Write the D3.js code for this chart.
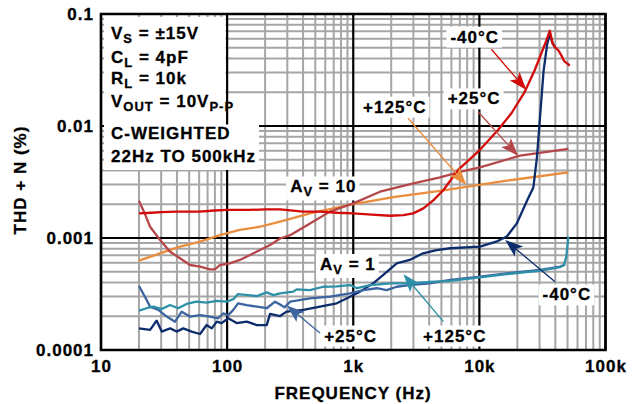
<!DOCTYPE html>
<html><head><meta charset="utf-8">
<script src="https://cdn.jsdelivr.net/npm/d3@7"></script>
<style>
body{margin:0;background:#fff}
text{font-family:"Liberation Sans",Arial,Helvetica,sans-serif;font-weight:bold;fill:#000;stroke:#000;stroke-width:0.3px;letter-spacing:1px}
</style></head><body>
<svg id="c" width="637" height="404"></svg>
<script>
// ---------- axis ticks ----------
const xTicks=[10,100,1000,10000,100000];
const xTickLabels=["10","100","1k","10k","100k"];
const yTicks=[0.0001,0.001,0.01,0.1];
const yTickLabels=["0.0001","0.001","0.01","0.1"];

// ---------- series: AV = 10 ----------
const av10_m40_f=[20,25,30,40,60,80,100,150,200,263,400,550,750,1000,1400,1960,2500,2980,3600,4330,5190,6780,9770,14060,17950,22900,27500,31000,34000,36200,38000,40000,42500,45000,47000,50800,52000];
const av10_m40_v=[0.00166,0.00168,0.0017,0.00172,0.00172,0.00176,0.00178,0.00178,0.0018,0.0018,0.00172,0.00172,0.00168,0.00166,0.00162,0.00158,0.0016,0.00166,0.00184,0.00218,0.00268,0.00405,0.0059,0.0092,0.013,0.0202,0.0316,0.0446,0.058,0.071,0.055,0.05,0.047,0.042,0.038,0.0355,0.0345];

const av10_p25_f=[20,22,24.5,29.4,35.3,42.3,50.8,61,73,80,87.7,105,126,152,182,219,263,316,454,654,1000,1630,3000,4880,7030,10100,21000,50800];
const av10_p25_v=[0.00215,0.0017,0.00126,0.00096,0.000755,0.00066,0.000574,0.000555,0.000525,0.000525,0.000574,0.000594,0.000637,0.000705,0.00078,0.000867,0.00099,0.00106,0.00135,0.00172,0.00204,0.00259,0.00308,0.00348,0.0039,0.00428,0.00543,0.00624];

const av10_p125_f=[20,29.4,42.3,61,87.7,126,182,263,454,1000,2210,4880,16500,50800];
const av10_p125_v=[0.000628,0.00073,0.000836,0.000927,0.00106,0.00118,0.00126,0.0014,0.00166,0.00201,0.00234,0.00264,0.00325,0.00386];

// ---------- series: AV = 1 ----------
const av1_m40_f=[20,24.5,27.6,30.3,35.3,39.8,44.9,52.3,61,68.8,75.5,82.8,90.6,102,119,143,172,206,219,263,296,402,545,740,943,1130,1440,1730,2210,2800,3580,4580,5860,10100,13600,16500,19800,24000,26800,28600,30400,32300,34500,36200,38000,40000];
const av1_m40_v=[0.000156,0.000151,0.000183,0.000146,0.000156,0.000146,0.000156,0.000146,0.000139,0.000167,0.000156,0.000179,0.000174,0.000192,0.000174,0.000179,0.000167,0.000167,0.00021,0.000201,0.00022,0.000228,0.000244,0.000261,0.000299,0.000332,0.000394,0.000468,0.000594,0.000637,0.00073,0.00078,0.00081,0.000836,0.000927,0.00103,0.00135,0.00218,0.00283,0.00525,0.0128,0.0312,0.054,0.0663,0.055,0.05];

const av1_p25_f=[20,22.3,24.5,28.5,33.2,38.6,43.6,50.8,61,73,85,93,102,112,122,143,172,206,240,263,285,316,454,654,943,1200,1535,1840,2210,2800,4040,5860,8980,16500,30400,43700,48000];
const av1_p25_v=[0.000373,0.000299,0.000244,0.000228,0.000199,0.000179,0.00022,0.000199,0.000205,0.000199,0.000192,0.000212,0.000205,0.000228,0.000261,0.000252,0.000244,0.000236,0.00027,0.000255,0.00024,0.00027,0.000289,0.000299,0.00032,0.000343,0.000356,0.000343,0.000367,0.00038,0.000394,0.000422,0.000446,0.000484,0.000518,0.000555,0.00058];

const av1_p125_f=[20,23,26,30.3,35.3,40.9,47.7,57,68.8,82.8,99.1,112,122,147,172,206,233,263,335,356,454,578,740,943,1070,1360,1960,2800,4040,5860,8980,16500,30400,43700,46800,48900,50800];
const av1_p125_v=[0.000225,0.000236,0.000244,0.000232,0.000252,0.000236,0.000258,0.00027,0.000265,0.000275,0.00027,0.000284,0.000316,0.000309,0.000303,0.000327,0.000309,0.00032,0.000332,0.000348,0.000343,0.000367,0.00037,0.00038,0.000356,0.00038,0.000394,0.000394,0.000405,0.000414,0.000438,0.000476,0.000512,0.00055,0.000574,0.00068,0.00103];

// ---------- annotations (data coordinates) ----------
const condLines=[[["V"],["S",1],[" = ±15V"]],[["C"],["L",1],[" = 4pF"]],[["R"],["L",1],[" = 10k"]],[["V"],["OUT",1],[" = 10V"],["P-P",1]]];
const weightLines=[[["C-WEIGHTED"]],[["22Hz TO 500kHz"]]];
const labels=[
 {t:[["-40°C"]],f:9190,v:0.0555,a:"middle"},
 {t:[["+25°C"]],f:9080,v:0.0156,a:"middle"},
 {t:[["+125°C"]],f:2135,v:0.01315,a:"middle"},
 {t:[["A"],["V",1],[" = 10"]],f:316,v:0.00255,a:"start"},
 {t:[["A"],["V",1],[" = 1"]],f:545,v:0.000518,a:"start"},
 {t:[["+25°C"]],f:953,v:0.000119,a:"middle"},
 {t:[["+125°C"]],f:6380,v:0.000119,a:"middle"},
 {t:[["-40°C"]],f:49400,v:0.000277,a:"middle"}
];
const arrows=[
 {from:[12450,0.0484],to:[23600,0.021],c:"red"},
 {from:[9770,0.0134],to:[20300,0.0054],c:"brown"},
 {from:[2720,0.01172],to:[7890,0.00297],c:"orange"},
 {from:[39800,0.000407],to:[16000,0.00096],c:"navy"},
 {from:[5190,0.000179],to:[2500,0.000474],c:"teal"},
 {from:[545,0.000142],to:[297,0.00025],c:"blue"}
];

const colors={red:"#d30a0a",brown:"#b5474a",orange:"#ea8d3d",navy:"#0c2c6c",blue:"#3c64a0",teal:"#2e90a8"};

// ---------- layout ----------
const svg=d3.select("#c");
const L=101,R=605.5,T=14,B=350;
const x=d3.scaleLog().domain([10,100000]).range([L,R]);
const y=d3.scaleLog().domain([0.0001,0.1]).range([B,T]);

const gGrid=svg.append("g");
const minorX=[],minorY=[];
for(let d=10;d<100000;d*=10)for(let k=2;k<=9;k++)minorX.push(d*k);
for(let d=0.0001;d<0.09;d*=10)for(let k=2;k<=9;k++)minorY.push(d*k);
gGrid.selectAll(".mx").data(minorX).join("line").attr("x1",d=>x(d)).attr("x2",d=>x(d)).attr("y1",T).attr("y2",B).attr("stroke","#a6a6a6").attr("stroke-width",2);
gGrid.selectAll(".my").data(minorY).join("line").attr("y1",d=>y(d)).attr("y2",d=>y(d)).attr("x1",L).attr("x2",R).attr("stroke","#a6a6a6").attr("stroke-width",2);
gGrid.selectAll(".Mx").data(xTicks).join("line").attr("x1",d=>x(d)).attr("x2",d=>x(d)).attr("y1",T).attr("y2",B).attr("stroke","#000").attr("stroke-width",2.2);
gGrid.selectAll(".My").data(yTicks).join("line").attr("y1",d=>y(d)).attr("y2",d=>y(d)).attr("x1",L).attr("x2",R).attr("stroke","#000").attr("stroke-width",2.2);

const gBox=svg.append("g");
const gCurves=svg.append("g");
const gArrows=svg.append("g");
const gText=svg.append("g");

function addText(g,px,py,parts,anchor,size){
  size=size||17;
  const t=g.append("text").attr("x",px).attr("y",py).attr("text-anchor",anchor||"start").style("font-size",size+"px");
  let sub=false;
  parts.forEach(p=>{
    const ts=t.append("tspan").text(p[0]);
    if(p[1]&&!sub){ts.attr("dy",4).style("font-size","13px");sub=true;}
    else if(p[1]&&sub){ts.style("font-size","13px");}
    else if(!p[1]&&sub){ts.attr("dy",-4);sub=false;}
  });
  return t;
}

svg.append("rect").attr("x",L).attr("y",T).attr("width",R-L).attr("height",B-T).attr("fill","none").attr("stroke","#000").attr("stroke-width",2.5);

const condBase=[39,62.5,83.5,107];
condLines.forEach((p,i)=>addText(gText,111,condBase[i],p,"start"));
const wBase=[139,162];
const wTexts=weightLines.map((p,i)=>addText(gText,111,wBase[i],p,"start"));
gBox.append("rect").attr("x",L+3).attr("y",T+3).attr("width",x(100)-1.6-(L+3)).attr("height",y(0.01)-1-(T+3)).attr("fill","#fff");
{
  const bb=wTexts.map(t=>t.node().getBBox());
  const r=d3.max(bb,b=>b.x+b.width)+3, bot=d3.max(bb,b=>b.y+b.height)+4;
  gBox.append("rect").attr("x",L+3).attr("y",y(0.01)-1.5).attr("width",r-(L+3)).attr("height",bot-(y(0.01)-1.5)).attr("fill","#fff");
}

labels.forEach(l=>{
  const t=addText(gText,x(l.f),y(l.v),l.t,l.a);
  const b=t.node().getBBox();
  gBox.append("rect").attr("x",b.x-4).attr("y",b.y-1).attr("width",b.width+7).attr("height",b.height+2).attr("fill","#fff");
});

const line=d3.line().x(d=>x(d[0])).y(d=>y(d[1]));
const series=[
 [av10_p125_f,av10_p125_v,colors.orange],
 [av10_p25_f,av10_p25_v,colors.brown],
 [av1_m40_f,av1_m40_v,colors.navy],
 [av10_m40_f,av10_m40_v,colors.red],
 [av1_p25_f,av1_p25_v,colors.blue],
 [av1_p125_f,av1_p125_v,colors.teal]
];
series.forEach(s=>{
  gCurves.append("path").datum(d3.zip(s[0],s[1])).attr("d",line).attr("fill","none").attr("stroke",s[2]).attr("stroke-width",2.3).attr("stroke-linejoin","round");
});

arrows.forEach(a=>{
  const x0=x(a.from[0]),y0=y(a.from[1]),x1=x(a.to[0]),y1=y(a.to[1]);
  const ang=Math.atan2(y1-y0,x1-x0), Lh=18, w=6.5;
  const bx=x1-Lh*Math.cos(ang), by=y1-Lh*Math.sin(ang);
  const nx=-Math.sin(ang), ny=Math.cos(ang);
  const c=colors[a.c];
  gArrows.append("line").attr("x1",x0).attr("y1",y0).attr("x2",bx+4*Math.cos(ang)).attr("y2",by+4*Math.sin(ang)).attr("stroke",c).attr("stroke-width",1.3);
  const nxp=x1-(Lh-4)*Math.cos(ang), nyp=y1-(Lh-4)*Math.sin(ang);
  gArrows.append("path").attr("d",`M${x1},${y1}L${bx+w*nx},${by+w*ny}L${nxp},${nyp}L${bx-w*nx},${by-w*ny}Z`).attr("fill",c);
});

xTicks.forEach((d,i)=>addText(gText,x(d)+0.5,B+22,[[xTickLabels[i]]],"middle"));
yTicks.forEach((d,i)=>addText(gText,94,y(d)+6,[[yTickLabels[i]]],"end"));

addText(gText,353,398.5,[["FREQUENCY (Hz)"]],"middle");
gText.append("text").attr("transform","translate(25.5,180) rotate(-90)").attr("text-anchor","middle").style("font-size","17px").text("THD + N (%)");
</script>
</body></html>
